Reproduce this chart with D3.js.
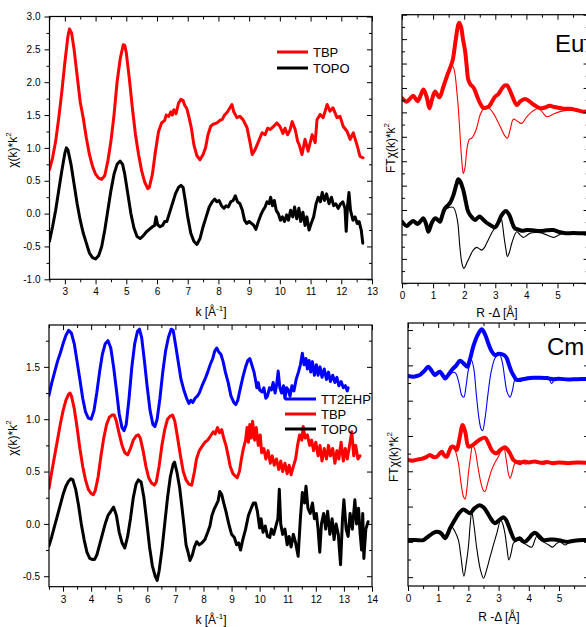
<!DOCTYPE html>
<html><head><meta charset="utf-8">
<script src="https://cdn.jsdelivr.net/npm/d3@7"></script>
<style>body{margin:0;background:#fff}svg{display:block}</style>
</head><body>
<svg id="c" width="586" height="627"></svg>
<script>
// ---------------- DATA ----------------
// Top-left: Eu chi(k)*k^2
const euTBP = [[2.5,0.67],[2.6,0.85],[2.7,1.1],[2.8,1.45],[2.9,1.85],[3.0,2.3],[3.1,2.7],[3.15,2.81],[3.22,2.75],[3.3,2.5],[3.4,2.1],[3.5,1.7],[3.6,1.45],[3.7,1.15],[3.8,0.9],[3.9,0.72],[4.0,0.6],[4.1,0.54],[4.2,0.52],[4.3,0.58],[4.4,0.8],[4.5,1.1],[4.6,1.5],[4.7,2.0],[4.8,2.35],[4.9,2.57],[4.95,2.56],[5.0,2.45],[5.1,2.05],[5.2,1.6],[5.3,1.2],[5.4,0.9],[5.5,0.65],[5.6,0.48],[5.7,0.38],[5.75,0.4],[5.85,0.6],[5.95,0.95],[6.05,1.25],[6.15,1.38],[6.25,1.42],[6.3,1.5],[6.38,1.48],[6.45,1.55],[6.5,1.5],[6.55,1.58],[6.62,1.52],[6.7,1.68],[6.78,1.74],[6.85,1.72],[6.9,1.65],[6.97,1.6],[7.05,1.45],[7.12,1.3],[7.2,1.05],[7.3,0.88],[7.4,0.82],[7.5,0.9],[7.58,1.0],[7.66,1.2],[7.75,1.33],[7.83,1.36],[7.95,1.38],[8.05,1.42],[8.12,1.43],[8.2,1.5],[8.28,1.54],[8.36,1.6],[8.44,1.66],[8.5,1.55],[8.6,1.46],[8.7,1.48],[8.8,1.43],[8.93,1.31],[9.03,1.08],[9.1,0.9],[9.19,0.97],[9.29,1.08],[9.42,1.23],[9.52,1.2],[9.6,1.3],[9.68,1.28],[9.78,1.32],[9.9,1.38],[10.0,1.33],[10.1,1.22],[10.17,1.3],[10.25,1.2],[10.33,1.27],[10.4,1.4],[10.5,1.28],[10.58,1.1],[10.63,1.05],[10.72,0.9],[10.82,1.13],[10.92,0.95],[11.05,1.2],[11.15,1.08],[11.21,1.43],[11.31,1.51],[11.41,1.46],[11.54,1.66],[11.63,1.56],[11.73,1.61],[11.86,1.46],[11.96,1.48],[12.06,1.33],[12.19,1.25],[12.29,1.13],[12.39,1.23],[12.52,1.03],[12.61,0.87],[12.71,0.85]];
const euTOPO = [[2.5,-0.42],[2.6,-0.2],[2.7,0.05],[2.8,0.35],[2.9,0.65],[3.0,0.92],[3.05,1.0],[3.1,0.97],[3.2,0.75],[3.3,0.45],[3.4,0.15],[3.5,-0.1],[3.6,-0.3],[3.7,-0.45],[3.8,-0.6],[3.9,-0.67],[4.0,-0.69],[4.1,-0.64],[4.2,-0.5],[4.3,-0.25],[4.4,0.05],[4.5,0.35],[4.6,0.6],[4.7,0.75],[4.8,0.8],[4.88,0.75],[4.95,0.6],[5.05,0.3],[5.15,0.0],[5.25,-0.22],[5.35,-0.35],[5.45,-0.38],[5.55,-0.34],[5.65,-0.28],[5.75,-0.24],[5.85,-0.2],[5.92,-0.18],[5.97,-0.05],[6.02,-0.17],[6.1,-0.2],[6.18,-0.18],[6.25,-0.12],[6.32,-0.12],[6.4,0.0],[6.5,0.15],[6.6,0.3],[6.7,0.4],[6.78,0.43],[6.85,0.4],[6.92,0.2],[7.0,-0.05],[7.1,-0.3],[7.2,-0.42],[7.3,-0.47],[7.4,-0.38],[7.5,-0.2],[7.6,-0.05],[7.7,0.1],[7.8,0.18],[7.88,0.22],[7.95,0.18],[8.02,0.2],[8.1,0.12],[8.18,0.08],[8.25,0.12],[8.32,0.1],[8.4,0.18],[8.48,0.2],[8.55,0.27],[8.62,0.18],[8.7,0.15],[8.78,0.05],[8.85,-0.1],[8.92,-0.15],[9.0,-0.12],[9.08,-0.15],[9.15,-0.18],[9.22,-0.24],[9.3,-0.12],[9.38,-0.02],[9.45,0.05],[9.52,0.1],[9.58,0.18],[9.65,0.15],[9.7,0.25],[9.76,0.12],[9.82,0.2],[9.88,0.05],[9.95,0.0],[10.02,-0.1],[10.08,-0.05],[10.15,-0.12],[10.22,-0.02],[10.28,-0.1],[10.35,0.05],[10.42,-0.05],[10.48,0.1],[10.55,-0.08],[10.62,0.08],[10.68,-0.12],[10.75,0.02],[10.82,-0.18],[10.88,-0.05],[10.95,-0.25],[11.02,-0.15],[11.1,-0.05],[11.18,0.15],[11.25,0.25],[11.32,0.18],[11.38,0.32],[11.45,0.2],[11.52,0.3],[11.6,0.15],[11.68,0.25],[11.75,0.12],[11.82,0.15],[11.9,0.08],[11.98,0.15],[12.05,0.18],[12.12,0.08],[12.16,-0.27],[12.2,0.1],[12.25,0.32],[12.3,0.05],[12.38,-0.1],[12.45,-0.05],[12.52,-0.15],[12.58,-0.12],[12.65,-0.25],[12.7,-0.45]];

// Bottom-left: Cm chi(k)*k^2
const cmTT2EHP = [[2.5,1.23],[2.6,1.35],[2.7,1.45],[2.8,1.55],[2.9,1.63],[3.0,1.72],[3.1,1.8],[3.2,1.85],[3.3,1.82],[3.4,1.72],[3.5,1.55],[3.6,1.38],[3.7,1.2],[3.8,1.07],[3.9,1.01],[4.0,1.0],[4.1,1.08],[4.2,1.25],[4.3,1.45],[4.4,1.62],[4.5,1.72],[4.6,1.75],[4.7,1.68],[4.8,1.5],[4.9,1.28],[5.0,1.05],[5.1,0.92],[5.17,0.89],[5.25,0.95],[5.35,1.2],[5.45,1.5],[5.55,1.72],[5.65,1.84],[5.72,1.86],[5.8,1.78],[5.9,1.55],[6.0,1.3],[6.1,1.08],[6.2,0.95],[6.27,0.93],[6.35,1.0],[6.45,1.2],[6.55,1.45],[6.65,1.65],[6.75,1.78],[6.85,1.86],[6.92,1.85],[7.0,1.72],[7.1,1.55],[7.2,1.38],[7.3,1.28],[7.4,1.2],[7.48,1.15],[7.55,1.18],[7.62,1.16],[7.7,1.2],[7.78,1.22],[7.85,1.25],[7.95,1.32],[8.05,1.38],[8.15,1.45],[8.25,1.53],[8.33,1.58],[8.4,1.65],[8.47,1.68],[8.55,1.64],[8.62,1.62],[8.7,1.55],[8.78,1.45],[8.88,1.35],[8.98,1.22],[9.08,1.16],[9.15,1.14],[9.22,1.18],[9.3,1.28],[9.4,1.4],[9.5,1.5],[9.58,1.56],[9.65,1.58],[9.72,1.52],[9.8,1.45],[9.85,1.38],[9.9,1.3],[9.95,1.35],[10.0,1.28],[10.08,1.26],[10.15,1.3],[10.22,1.2],[10.28,1.22],[10.35,1.3],[10.42,1.28],[10.48,1.35],[10.55,1.25],[10.6,1.32],[10.66,1.46],[10.72,1.3],[10.78,1.25],[10.85,1.32],[10.9,1.2],[10.96,1.3],[11.02,1.28],[11.08,1.22],[11.15,1.32],[11.22,1.27],[11.3,1.38],[11.38,1.45],[11.45,1.52],[11.52,1.63],[11.58,1.52],[11.65,1.58],[11.7,1.48],[11.76,1.56],[11.82,1.45],[11.88,1.55],[11.95,1.42],[12.02,1.52],[12.08,1.42],[12.15,1.5],[12.22,1.4],[12.3,1.48],[12.38,1.38],[12.45,1.45],[12.52,1.36],[12.6,1.42],[12.68,1.35],[12.75,1.4],[12.82,1.32],[12.9,1.36],[12.98,1.3],[13.05,1.32],[13.12,1.27],[13.15,1.3]];
const cmTBP = [[2.5,0.34],[2.6,0.5],[2.7,0.65],[2.8,0.8],[2.9,0.95],[3.0,1.08],[3.1,1.18],[3.2,1.24],[3.25,1.25],[3.3,1.22],[3.4,1.1],[3.5,0.92],[3.6,0.72],[3.7,0.55],[3.8,0.42],[3.9,0.33],[4.0,0.29],[4.08,0.28],[4.15,0.32],[4.25,0.45],[4.35,0.65],[4.45,0.82],[4.55,0.95],[4.65,1.02],[4.75,1.04],[4.82,1.04],[4.9,0.98],[5.0,0.86],[5.1,0.75],[5.2,0.68],[5.3,0.66],[5.4,0.72],[5.5,0.8],[5.6,0.84],[5.68,0.85],[5.75,0.82],[5.85,0.7],[5.95,0.55],[6.05,0.44],[6.15,0.39],[6.25,0.37],[6.32,0.4],[6.42,0.55],[6.52,0.75],[6.62,0.9],[6.72,1.0],[6.82,1.03],[6.9,1.04],[6.98,0.98],[7.08,0.82],[7.18,0.65],[7.28,0.5],[7.38,0.42],[7.48,0.38],[7.58,0.37],[7.68,0.5],[7.75,0.62],[7.85,0.7],[7.95,0.74],[8.05,0.78],[8.15,0.8],[8.25,0.84],[8.35,0.88],[8.42,0.86],[8.5,0.92],[8.57,0.87],[8.65,0.9],[8.72,0.82],[8.8,0.75],[8.88,0.65],[8.95,0.55],[9.05,0.48],[9.12,0.46],[9.2,0.44],[9.28,0.5],[9.35,0.62],[9.42,0.72],[9.5,0.8],[9.55,0.92],[9.6,0.78],[9.65,0.95],[9.7,0.82],[9.75,0.98],[9.82,0.8],[9.88,0.92],[9.95,0.75],[10.02,0.85],[10.07,0.68],[10.15,0.72],[10.22,0.62],[10.3,0.7],[10.38,0.58],[10.45,0.65],[10.52,0.56],[10.6,0.62],[10.68,0.52],[10.75,0.6],[10.82,0.5],[10.9,0.58],[10.98,0.48],[11.05,0.56],[11.12,0.47],[11.2,0.55],[11.28,0.62],[11.35,0.75],[11.42,0.85],[11.5,0.8],[11.55,0.93],[11.62,0.82],[11.7,0.85],[11.78,0.75],[11.85,0.8],[11.92,0.7],[12.0,0.78],[12.08,0.65],[12.15,0.75],[12.22,0.6],[12.3,0.72],[12.38,0.62],[12.45,0.75],[12.52,0.65],[12.6,0.72],[12.68,0.58],[12.75,0.7],[12.82,0.62],[12.9,0.78],[12.98,0.6],[13.05,0.72],[13.12,0.62],[13.2,0.75],[13.28,0.88],[13.35,0.65],[13.42,0.75],[13.5,0.62],[13.57,0.65]];
const cmTOPO = [[2.5,-0.21],[2.6,-0.12],[2.7,-0.02],[2.8,0.08],[2.9,0.18],[3.0,0.28],[3.1,0.36],[3.2,0.41],[3.28,0.43],[3.35,0.42],[3.45,0.33],[3.55,0.18],[3.65,0.0],[3.75,-0.15],[3.85,-0.27],[3.95,-0.33],[4.05,-0.34],[4.12,-0.34],[4.2,-0.3],[4.3,-0.2],[4.4,-0.1],[4.5,0.0],[4.6,0.08],[4.7,0.12],[4.8,0.16],[4.85,0.12],[4.9,0.08],[5.0,-0.08],[5.1,-0.18],[5.2,-0.23],[5.3,-0.12],[5.4,0.05],[5.5,0.25],[5.6,0.38],[5.68,0.42],[5.78,0.4],[5.88,0.25],[5.98,0.02],[6.08,-0.22],[6.18,-0.4],[6.28,-0.5],[6.35,-0.54],[6.42,-0.45],[6.52,-0.25],[6.62,0.0],[6.72,0.25],[6.82,0.45],[6.92,0.57],[6.97,0.59],[7.05,0.5],[7.15,0.35],[7.25,0.12],[7.3,0.0],[7.38,-0.2],[7.45,-0.27],[7.52,-0.35],[7.6,-0.3],[7.68,-0.22],[7.76,-0.17],[7.85,-0.2],[7.95,-0.18],[8.05,-0.15],[8.15,-0.08],[8.23,-0.02],[8.3,0.08],[8.38,0.14],[8.45,0.18],[8.52,0.22],[8.58,0.31],[8.65,0.28],[8.72,0.2],[8.8,0.12],[8.9,0.0],[9.0,-0.1],[9.1,-0.13],[9.18,-0.2],[9.25,-0.18],[9.32,-0.25],[9.4,-0.15],[9.5,-0.05],[9.6,0.08],[9.7,0.15],[9.78,0.2],[9.85,0.2],[9.92,0.12],[10.0,-0.04],[10.05,0.05],[10.12,-0.08],[10.2,-0.02],[10.28,-0.12],[10.36,-0.13],[10.42,-0.05],[10.5,-0.1],[10.58,-0.02],[10.65,0.05],[10.7,0.33],[10.75,0.0],[10.82,-0.1],[10.9,-0.05],[10.98,-0.2],[11.05,-0.12],[11.12,-0.22],[11.2,-0.1],[11.28,-0.18],[11.37,-0.31],[11.45,0.05],[11.52,0.3],[11.6,0.2],[11.65,0.36],[11.72,0.15],[11.8,0.1],[11.88,0.2],[11.95,0.05],[12.02,0.1],[12.08,-0.05],[12.14,-0.27],[12.2,0.0],[12.28,0.1],[12.35,-0.05],[12.42,0.12],[12.5,-0.1],[12.58,0.05],[12.65,-0.15],[12.72,0.0],[12.8,-0.1],[12.88,-0.39],[12.95,0.05],[13.0,0.23],[13.08,-0.05],[13.15,-0.12],[13.22,0.1],[13.3,-0.05],[13.39,0.23],[13.45,0.0],[13.52,0.15],[13.58,-0.1],[13.63,-0.25],[13.67,0.1],[13.71,-0.33],[13.78,-0.05],[13.86,0.02]];

// Top-right: Eu FT (magnitude = thick, imaginary part = thin), offset arbitrary units
const euFT_TBP_mag = [[0,7.58],[0.15,7.44],[0.25,7.55],[0.36,7.68],[0.5,7.46],[0.6,7.7],[0.69,7.94],[0.8,7.6],[0.88,7.17],[0.97,7.55],[1.06,7.85],[1.2,7.62],[1.33,8.05],[1.45,8.5],[1.54,8.8],[1.63,9.14],[1.72,9.9],[1.8,10.55],[1.84,10.67],[1.9,10.5],[1.96,10.0],[2.03,9.5],[2.08,8.9],[2.13,8.35],[2.2,8.15],[2.29,8.03],[2.36,7.85],[2.42,7.64],[2.52,7.35],[2.62,7.18],[2.72,7.2],[2.8,7.25],[2.9,7.45],[2.99,7.64],[3.1,7.75],[3.2,7.95],[3.3,8.1],[3.38,8.1],[3.45,7.95],[3.55,7.65],[3.69,7.3],[3.8,7.45],[3.95,7.55],[4.1,7.45],[4.25,7.3],[4.44,7.17],[4.6,7.2],[4.75,7.27],[4.87,7.23],[5.0,7.2],[5.2,7.15],[5.4,7.15],[5.6,7.1],[5.83,7.03],[6.0,7.05]];
const euFT_TBP_im = [[0,7.55],[0.15,7.42],[0.25,7.53],[0.36,7.66],[0.5,7.44],[0.6,7.68],[0.69,7.9],[0.8,7.58],[0.88,7.2],[0.97,7.52],[1.06,7.8],[1.2,7.6],[1.33,8.0],[1.45,8.45],[1.55,8.75],[1.63,8.9],[1.7,8.6],[1.76,7.9],[1.81,7.2],[1.87,6.0],[1.93,4.9],[1.97,4.5],[2.02,4.7],[2.1,5.6],[2.17,5.9],[2.24,5.94],[2.32,6.1],[2.4,6.35],[2.51,6.89],[2.62,7.15],[2.72,7.23],[2.82,7.15],[2.94,6.96],[3.05,6.7],[3.21,6.28],[3.3,6.05],[3.39,5.94],[3.48,6.3],[3.58,6.72],[3.7,6.65],[3.85,6.55],[4.0,6.8],[4.18,7.03],[4.39,7.17],[4.55,6.95],[4.66,6.82],[4.85,6.92],[5.08,7.03],[5.3,7.08],[5.51,7.1],[5.8,7.05],[6.0,7.05]];
const euFT_TOPO_mag = [[0,2.52],[0.15,2.35],[0.25,2.45],[0.36,2.55],[0.5,2.43],[0.6,2.55],[0.69,2.66],[0.78,2.4],[0.85,2.11],[0.95,2.45],[1.06,2.66],[1.15,2.6],[1.22,2.52],[1.3,2.8],[1.38,3.07],[1.54,3.28],[1.65,3.6],[1.75,4.05],[1.81,4.26],[1.88,4.15],[1.97,3.82],[2.05,3.35],[2.13,2.93],[2.25,2.7],[2.35,2.59],[2.45,2.7],[2.51,2.73],[2.6,2.62],[2.72,2.48],[2.85,2.38],[2.99,2.29],[3.1,2.5],[3.2,2.78],[3.34,2.96],[3.45,2.8],[3.55,2.45],[3.63,2.25],[3.75,2.2],[3.85,2.15],[4.01,2.18],[4.2,2.17],[4.44,2.14],[4.65,2.17],[4.87,2.18],[5.05,2.1],[5.26,2.05],[5.5,2.06],[5.8,2.05],[6.0,2.05]];
const euFT_TOPO_im = [[0,2.5],[0.15,2.33],[0.25,2.43],[0.36,2.53],[0.5,2.41],[0.6,2.53],[0.69,2.64],[0.78,2.38],[0.85,2.12],[0.95,2.43],[1.06,2.64],[1.15,2.58],[1.22,2.5],[1.3,2.75],[1.38,3.0],[1.5,3.1],[1.65,3.11],[1.78,2.59],[1.86,1.5],[1.93,0.8],[1.99,0.61],[2.1,0.88],[2.2,1.15],[2.29,1.36],[2.4,1.47],[2.48,1.42],[2.56,1.36],[2.64,1.45],[2.72,1.64],[2.88,2.05],[3.04,2.39],[3.17,2.73],[3.22,2.5],[3.28,1.91],[3.34,1.4],[3.39,1.09],[3.46,1.3],[3.53,1.64],[3.69,2.11],[3.8,1.98],[3.9,1.88],[4.0,1.95],[4.12,2.05],[4.3,2.08],[4.44,2.07],[4.66,1.98],[4.87,1.88],[5.0,1.95],[5.18,2.05],[5.5,2.06],[6.0,2.05]];

// Bottom-right: Cm FT
const cmFT_TT2EHP_mag = [[0,5.7],[0.18,5.68],[0.3,5.7],[0.4,5.73],[0.55,5.85],[0.67,5.96],[0.78,5.85],[0.89,5.73],[1.0,5.8],[1.06,5.82],[1.15,5.72],[1.23,5.63],[1.35,5.75],[1.45,5.87],[1.6,6.0],[1.72,6.13],[1.85,6.05],[1.96,5.96],[2.06,6.2],[2.16,6.53],[2.3,6.85],[2.44,7.02],[2.55,6.88],[2.66,6.62],[2.77,6.4],[2.88,6.29],[3.0,6.33],[3.1,6.32],[3.2,6.28],[3.27,6.2],[3.35,6.0],[3.43,5.82],[3.52,5.68],[3.6,5.59],[3.75,5.6],[3.93,5.63],[4.15,5.65],[4.37,5.65],[4.6,5.64],[4.81,5.61],[5.0,5.62],[5.3,5.6],[5.6,5.61],[6.0,5.61]];
const cmFT_TT2EHP_im = [[0,5.68],[0.18,5.66],[0.3,5.68],[0.4,5.71],[0.55,5.83],[0.67,5.94],[0.78,5.83],[0.89,5.7],[1.0,5.78],[1.06,5.8],[1.15,5.7],[1.23,5.6],[1.35,5.7],[1.45,5.78],[1.55,5.8],[1.61,5.73],[1.7,5.45],[1.78,5.15],[1.85,5.1],[1.92,5.4],[2.0,5.87],[2.1,6.15],[2.18,5.9],[2.26,5.2],[2.35,4.5],[2.42,4.2],[2.47,4.15],[2.55,4.5],[2.65,5.2],[2.75,5.8],[2.88,6.2],[3.02,6.32],[3.12,6.1],[3.2,5.65],[3.28,5.25],[3.38,5.1],[3.46,5.3],[3.54,5.59],[3.62,5.62],[3.71,5.54],[3.82,5.6],[3.93,5.66],[4.2,5.64],[4.5,5.64],[4.65,5.63],[4.76,5.49],[4.87,5.63],[5.1,5.61],[5.5,5.6],[6.0,5.61]];
const cmFT_TBP_mag = [[0,3.32],[0.15,3.3],[0.3,3.33],[0.45,3.35],[0.6,3.4],[0.73,3.46],[0.85,3.4],[0.95,3.41],[1.05,3.5],[1.12,3.55],[1.2,3.45],[1.28,3.41],[1.37,3.58],[1.45,3.7],[1.53,3.68],[1.61,3.6],[1.7,3.9],[1.81,4.31],[1.9,4.1],[2.0,3.7],[2.1,3.72],[2.22,3.79],[2.38,3.9],[2.55,3.95],[2.66,3.8],[2.77,3.6],[2.87,3.52],[2.94,3.51],[3.05,3.6],[3.21,3.68],[3.35,3.55],[3.49,3.32],[3.6,3.26],[3.71,3.23],[3.85,3.28],[4.0,3.25],[4.2,3.28],[4.4,3.24],[4.6,3.26],[4.8,3.23],[5.0,3.25],[5.3,3.23],[5.6,3.25],[6.0,3.24]];
const cmFT_TBP_im = [[0,3.3],[0.15,3.28],[0.3,3.31],[0.45,3.33],[0.6,3.38],[0.73,3.44],[0.85,3.38],[0.95,3.39],[1.05,3.48],[1.12,3.53],[1.2,3.43],[1.28,3.39],[1.39,3.7],[1.5,3.72],[1.58,3.55],[1.67,3.23],[1.75,2.7],[1.83,2.3],[1.89,2.21],[1.95,2.5],[2.0,2.94],[2.07,3.4],[2.14,3.74],[2.22,3.6],[2.32,3.1],[2.42,2.65],[2.5,2.45],[2.55,2.43],[2.65,2.7],[2.77,3.04],[2.88,3.25],[2.99,3.41],[3.16,3.7],[3.25,3.35],[3.32,2.95],[3.38,2.8],[3.46,3.0],[3.54,3.23],[3.66,3.3],[3.77,3.27],[3.88,3.2],[3.98,3.23],[4.15,3.3],[4.35,3.22],[4.5,3.2],[4.7,3.26],[5.0,3.25],[5.5,3.24],[6.0,3.24]];
const cmFT_TOPO_mag = [[0,1.05],[0.25,1.05],[0.51,1.05],[0.62,1.12],[0.73,1.19],[0.85,1.26],[0.95,1.29],[1.05,1.27],[1.12,1.22],[1.23,1.1],[1.3,1.2],[1.39,1.38],[1.5,1.55],[1.61,1.71],[1.72,1.84],[1.83,1.92],[1.95,1.86],[2.05,1.81],[2.2,1.95],[2.38,2.04],[2.5,1.98],[2.61,1.85],[2.75,1.65],[2.88,1.53],[3.0,1.6],[3.16,1.7],[3.25,1.62],[3.32,1.48],[3.42,1.25],[3.54,1.05],[3.62,1.08],[3.71,1.1],[3.8,1.02],[3.87,1.0],[4.0,1.1],[4.1,1.2],[4.2,1.26],[4.3,1.2],[4.48,1.05],[4.65,1.06],[4.81,1.07],[5.0,1.05],[5.26,1.0],[5.5,1.03],[5.8,1.05],[6.0,1.05]];
const cmFT_TOPO_im = [[0,1.03],[0.25,1.03],[0.51,1.03],[0.62,1.1],[0.73,1.17],[0.85,1.24],[0.95,1.27],[1.05,1.25],[1.12,1.2],[1.23,1.08],[1.32,1.25],[1.45,1.43],[1.55,1.3],[1.67,1.05],[1.75,0.6],[1.85,0.03],[1.93,0.4],[2.0,0.86],[2.06,1.5],[2.11,1.85],[2.18,1.5],[2.28,0.8],[2.4,0.2],[2.5,-0.03],[2.6,0.2],[2.72,0.58],[2.84,0.95],[2.94,1.24],[3.07,1.62],[3.14,1.5],[3.21,1.24],[3.28,0.8],[3.34,0.49],[3.42,0.7],[3.49,0.96],[3.65,1.05],[3.8,0.98],[3.93,0.91],[4.1,0.85],[4.2,1.05],[4.26,1.15],[4.35,1.08],[4.48,1.0],[4.65,0.92],[4.79,0.85],[4.92,0.95],[5.03,1.0],[5.2,0.91],[5.35,1.0],[5.5,1.05],[6.0,1.05]];

// Tick values / labels
const kTicksTop = [3,4,5,6,7,8,9,10,11,12,13];
const kTicksBot = [3,4,5,6,7,8,9,10,11,12,13,14];
const chiTicksTop = [-1.0,-0.5,0.0,0.5,1.0,1.5,2.0,2.5,3.0];
const chiTicksBot = [-0.5,0.0,0.5,1.0,1.5];
const rTicks = [0,1,2,3,4,5,6];
const rTickLabels = [0,1,2,3,4,5];
const legendEu = ["TBP","TOPO"];
const legendCm = ["TT2EHP","TBP","TOPO"];

// ---------------- DRAW ----------------
const svg = d3.select('#c');
const FONT = '"Liberation Sans", Arial, Helvetica, sans-serif';
const RED = '#ff0000', BLACK = '#000000', BLUE = '#0000ff';

function range(a, b, s) { const r = []; for (let v = a; v <= b + 1e-9; v += s) r.push(+v.toFixed(4)); return r; }

function panel(o) {
  const x = d3.scaleLinear().domain(o.xd).range([o.l, o.r]);
  const y = d3.scaleLinear().domain(o.yd).range([o.b, o.t]);
  const g = svg.append('g');
  const id = 'clip' + o.name;
  svg.append('clipPath').attr('id', id).append('rect')
    .attr('x', o.l).attr('y', o.t - 2).attr('width', o.r - o.l).attr('height', o.b - o.t + 4);
  const cg = g.append('g').attr('clip-path', `url(#${id})`);
  o.series.forEach(s => {
    cg.append('path').datum(s.data)
      .attr('fill', 'none').attr('stroke', s.color).attr('stroke-width', s.w)
      .attr('stroke-linejoin', 'round').attr('stroke-linecap', 'round')
      .attr('d', d3.line().x(d => x(d[0])).y(d => y(d[1])).curve(s.curve || d3.curveLinear));
  });

  const ax = g.append('g').attr('font-family', FONT);
  const style = sel => { sel.select('.domain').remove(); sel.selectAll('line').attr('stroke', '#000').attr('stroke-width', 1); };
  const xMinor = range(o.xd[0], o.xd[1], 0.5).filter(v => !o.xTicks.includes(v));
  const yMinor = o.yMinor;
  const labelSet = o.xLabels || o.xTicks;
  // bottom
  ax.append('g').attr('transform', `translate(0,${o.b})`)
    .call(d3.axisBottom(x).tickValues(o.xTicks).tickSize(5).tickSizeOuter(0).tickPadding(4)
      .tickFormat(d => labelSet.includes(d) ? d3.format('d')(d) : ''))
    .call(style).call(s => s.selectAll('text').attr('font-size', 10).attr('fill', '#000').attr('font-family', FONT));
  ax.append('g').attr('transform', `translate(0,${o.b})`)
    .call(d3.axisBottom(x).tickValues(xMinor).tickSize(3).tickSizeOuter(0).tickFormat(''))
    .call(style);
  // top (inward)
  ax.append('g').attr('transform', `translate(0,${o.t})`)
    .call(d3.axisTop(x).tickValues(o.xTicks).tickSize(-5).tickSizeOuter(0).tickFormat(''))
    .call(style);
  ax.append('g').attr('transform', `translate(0,${o.t})`)
    .call(d3.axisTop(x).tickValues(xMinor).tickSize(-3).tickSizeOuter(0).tickFormat(''))
    .call(style);
  // left
  const leftSz = o.leftIn ? -5 : 5, leftSzM = o.leftIn ? -3 : 3;
  const la = d3.axisLeft(y).tickValues(o.yTicks).tickSize(leftSz).tickSizeOuter(0).tickPadding(o.leftIn ? 9 : 4);
  if (o.yLabels) la.tickFormat(d => d.toFixed(1)); else la.tickFormat('');
  ax.append('g').attr('transform', `translate(${o.l},0)`).call(la).call(style)
    .call(s => s.selectAll('text').attr('font-size', 10).attr('fill', '#000').attr('font-family', FONT));
  ax.append('g').attr('transform', `translate(${o.l},0)`)
    .call(d3.axisLeft(y).tickValues(yMinor).tickSize(leftSzM).tickSizeOuter(0).tickFormat('')).call(style);
  // right (inward)
  ax.append('g').attr('transform', `translate(${o.r},0)`)
    .call(d3.axisRight(y).tickValues(o.yTicks).tickSize(-5).tickSizeOuter(0).tickFormat('')).call(style);
  ax.append('g').attr('transform', `translate(${o.r},0)`)
    .call(d3.axisRight(y).tickValues(yMinor).tickSize(-3).tickSizeOuter(0).tickFormat('')).call(style);
  // frame
  g.append('rect').attr('x', o.l).attr('y', o.t).attr('width', o.r - o.l).attr('height', o.b - o.t)
    .attr('fill', 'none').attr('stroke', '#000').attr('stroke-width', 1.2);
  return { x, y, g };
}

const thick3 = 3, ftThick = 4, ftThin = 1.1;
const smooth = d3.curveCatmullRom.alpha(0.5);

// Top-left
panel({ name: 'tl', l: 49.5, r: 372, t: 16.5, b: 279.3, xd: [2.5, 13], yd: [-1, 3],
  xTicks: kTicksTop, yTicks: chiTicksTop, yMinor: range(-0.75, 2.75, 0.5), yLabels: true,
  series: [ { data: euTBP, color: RED, w: thick3 }, { data: euTOPO, color: BLACK, w: thick3 } ] });
// Bottom-left
panel({ name: 'bl', l: 49, r: 372, t: 325, b: 586.7, xd: [2.5, 14], yd: [-0.6, 1.9],
  xTicks: kTicksBot, yTicks: chiTicksBot, yMinor: range(-0.25, 1.75, 0.5), yLabels: true,
  series: [ { data: cmTT2EHP, color: BLUE, w: thick3 }, { data: cmTBP, color: RED, w: thick3 }, { data: cmTOPO, color: BLACK, w: thick3 } ] });
// Top-right
panel({ name: 'tr', l: 402, r: 588.6, t: 14.7, b: 283.3, xd: [0, 6], yd: [0, 11], leftIn: true,
  xTicks: rTicks, xLabels: rTickLabels, yTicks: range(0, 11, 1), yMinor: range(0.5, 10.5, 1), yLabels: false,
  series: [ { data: euFT_TBP_im, color: RED, w: ftThin, curve: smooth }, { data: euFT_TBP_mag, color: RED, w: ftThick, curve: smooth },
            { data: euFT_TOPO_im, color: BLACK, w: ftThin, curve: smooth }, { data: euFT_TOPO_mag, color: BLACK, w: ftThick, curve: smooth } ] });
// Bottom-right
panel({ name: 'br', l: 408, r: 589.2, t: 323, b: 586, xd: [0, 6], yd: [-0.25, 7.2], leftIn: true,
  xTicks: rTicks, xLabels: rTickLabels, yTicks: range(0, 7, 1), yMinor: range(0.5, 6.5, 1), yLabels: false,
  series: [ { data: cmFT_TT2EHP_im, color: BLUE, w: ftThin, curve: smooth }, { data: cmFT_TT2EHP_mag, color: BLUE, w: ftThick, curve: smooth },
            { data: cmFT_TBP_im, color: RED, w: ftThin, curve: smooth }, { data: cmFT_TBP_mag, color: RED, w: ftThick, curve: smooth },
            { data: cmFT_TOPO_im, color: BLACK, w: ftThin, curve: smooth }, { data: cmFT_TOPO_mag, color: BLACK, w: ftThick, curve: smooth } ] });

// Axis titles
function kTitle(cx, yb) {
  const t = svg.append('text').attr('x', cx).attr('y', yb).attr('text-anchor', 'middle')
    .attr('font-family', FONT).attr('font-size', 12);
  t.append('tspan').text('k [Å');
  t.append('tspan').attr('font-size', 8).attr('dy', -5).text('-1');
  t.append('tspan').attr('dy', 5).text(']');
}
kTitle(211, 316); kTitle(211, 624);

function rTitle(cx, yb) {
  svg.append('text').attr('x', cx).attr('y', yb).attr('text-anchor', 'middle')
    .attr('font-family', FONT).attr('font-size', 12).text('R -Δ [Å]');
}
rTitle(497, 317); rTitle(499, 621);

function yTitle(x, cy, prefix) {
  const t = svg.append('text').attr('transform', `translate(${x},${cy}) rotate(-90)`).attr('text-anchor', 'middle')
    .attr('font-family', FONT).attr('font-size', 12);
  t.append('tspan').text(prefix + 'χ(k)*k');
  t.append('tspan').attr('font-size', 8).attr('dy', -6).text('2');
}
yTitle(17, 150, ''); yTitle(17, 438, '');
yTitle(395, 148, 'FT'); yTitle(398, 457, 'FT');

// Legends
function legend(items, colors, x0, y0, dy) {
  items.forEach((name, i) => {
    const yy = y0 + i * dy;
    svg.append('line').attr('x1', x0).attr('x2', x0 + 31).attr('y1', yy).attr('y2', yy)
      .attr('stroke', colors[i]).attr('stroke-width', 3);
    svg.append('text').attr('x', x0 + 36).attr('y', yy + 4.5).attr('font-family', FONT)
      .attr('font-size', 13).text(name);
  });
}
legend(legendEu, [RED, BLACK], 277, 52, 16);
legend(legendCm, [BLUE, RED, BLACK], 285, 399, 15);

// Panel labels
svg.append('text').attr('x', 555).attr('y', 52).attr('font-family', FONT).attr('font-size', 24).text('Eu');
svg.append('text').attr('x', 547).attr('y', 355).attr('font-family', FONT).attr('font-size', 24).text('Cm');
</script>
</body></html>
